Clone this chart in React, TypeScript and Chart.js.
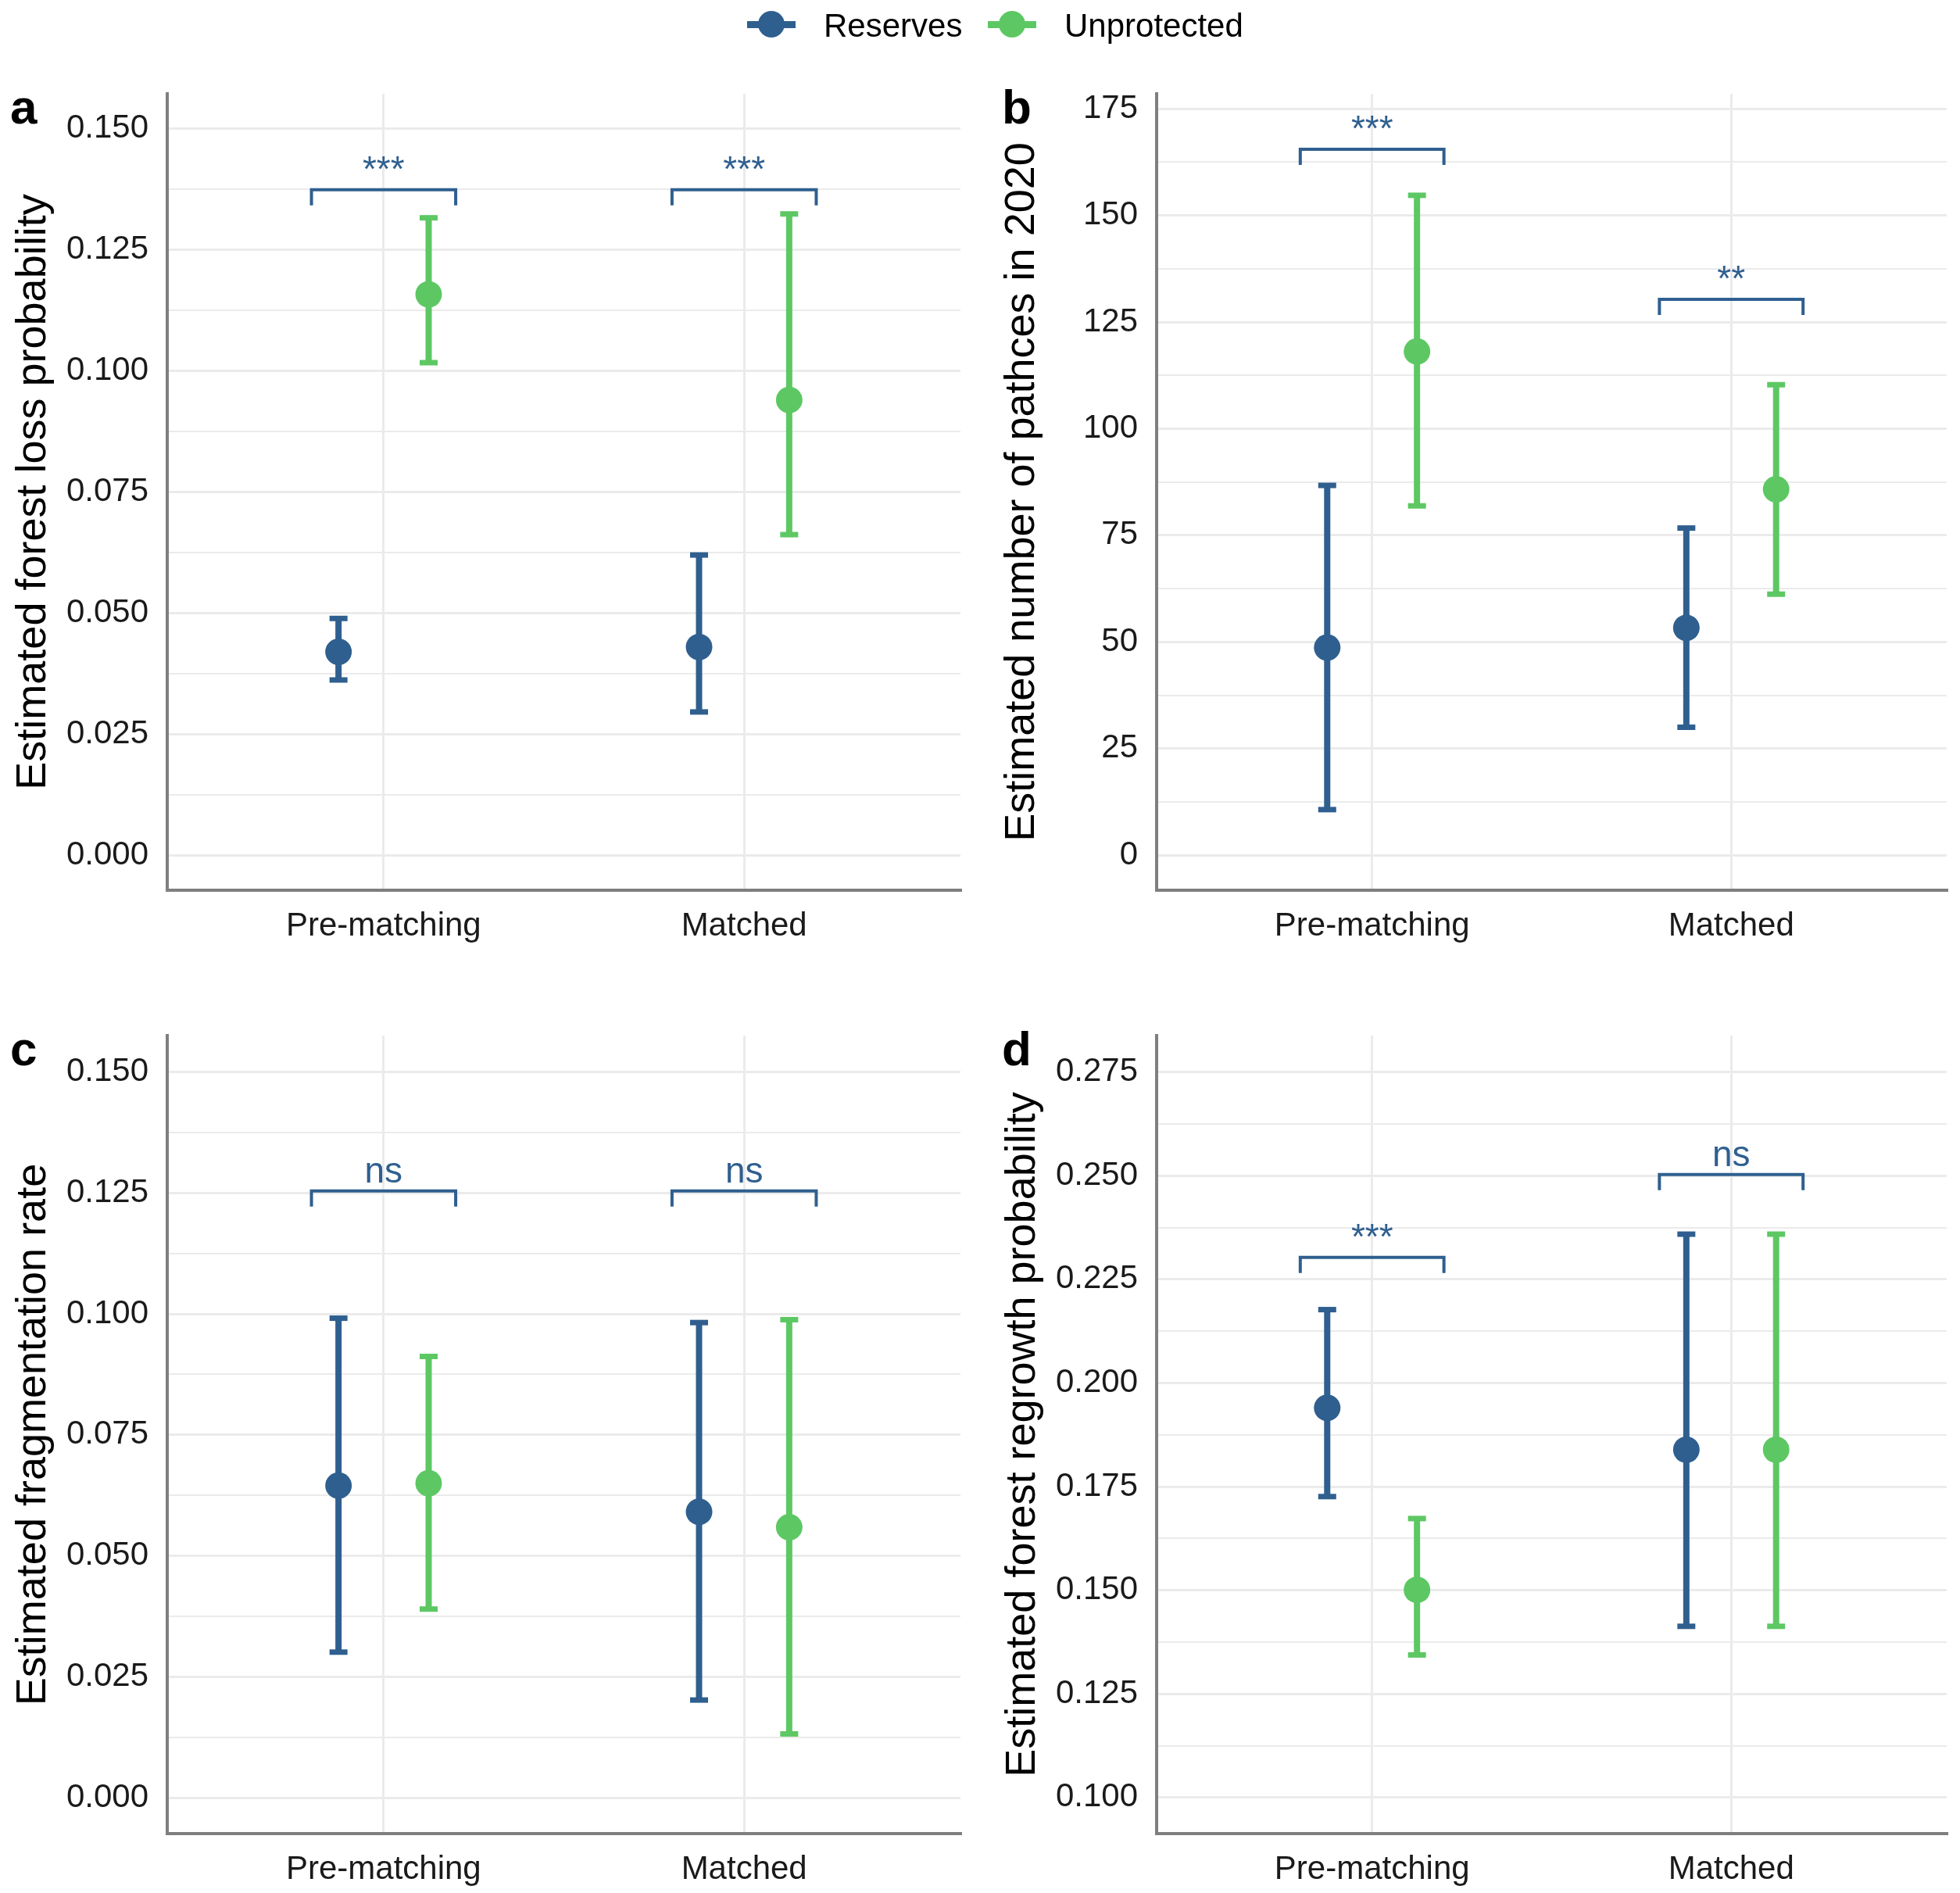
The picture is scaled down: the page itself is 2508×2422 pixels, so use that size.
import React, { useEffect, useRef } from 'react';
import { Chart, registerables } from 'chart.js';

Chart.register(...registerables);

// ---------- shared ----------
const CATEGORIES = ['Pre-matching', 'Matched'];
const SERIES = ['Reserves', 'Unprotected'];
const SERIES_COLORS = ['#2F5F8F', '#5DC863'];

// ---------- panel a: forest loss probability ----------
const A_TITLE = 'Estimated forest loss probability';
const A_RES = [0.042, 0.043];
const A_RES_LOW = [0.0362, 0.0296];
const A_RES_HIGH = [0.0489, 0.062];
const A_UNP = [0.1158, 0.094];
const A_UNP_LOW = [0.1017, 0.0662];
const A_UNP_HIGH = [0.1316, 0.1324];
const A_SIG = ['***', '***'];
const A_SIG_Y = [0.1374, 0.1374];
const A_Y_TICKS = [0, 0.025, 0.05, 0.075, 0.1, 0.125, 0.15];
const A_Y_RANGE = [-0.0072, 0.1572];

// ---------- panel b: number of patches ----------
const B_TITLE = 'Estimated number of pathces in 2020';
const B_RES = [48.7, 53.3];
const B_RES_LOW = [10.7, 30.0];
const B_RES_HIGH = [86.7, 76.7];
const B_UNP = [118.1, 85.8];
const B_UNP_LOW = [81.9, 61.2];
const B_UNP_HIGH = [154.7, 110.3];
const B_SIG = ['***', '**'];
const B_SIG_Y = [165.5, 130.3];
const B_Y_TICKS = [0, 25, 50, 75, 100, 125, 150, 175];
const B_Y_RANGE = [-8.2, 178.5];

// ---------- panel c: fragmentation rate ----------
const C_TITLE = 'Estimated fragmentation rate';
const C_RES = [0.0645, 0.0591];
const C_RES_LOW = [0.0301, 0.0202];
const C_RES_HIGH = [0.0991, 0.0982];
const C_UNP = [0.065, 0.0559];
const C_UNP_LOW = [0.039, 0.0132];
const C_UNP_HIGH = [0.0912, 0.0988];
const C_SIG = ['ns', 'ns'];
const C_SIG_Y = [0.1254, 0.1254];
const C_Y_TICKS = [0, 0.025, 0.05, 0.075, 0.1, 0.125, 0.15];
const C_Y_RANGE = [-0.0074, 0.1575];

// ---------- panel d: regrowth probability ----------
const D_TITLE = 'Estimated forest regrowth probability';
const D_RES = [0.194, 0.1839];
const D_RES_LOW = [0.1726, 0.1413];
const D_RES_HIGH = [0.2177, 0.2359];
const D_UNP = [0.1501, 0.1839];
const D_UNP_LOW = [0.1344, 0.1413];
const D_UNP_HIGH = [0.1673, 0.2359];
const D_SIG = ['***', 'ns'];
const D_SIG_Y = [0.2303, 0.2503];
const D_Y_TICKS = [0.1, 0.125, 0.15, 0.175, 0.2, 0.225, 0.25, 0.275];
const D_Y_RANGE = [0.0913, 0.2838];

// ---------- styling / layout ----------
const FONT = "'Liberation Sans', Arial, Helvetica, sans-serif";
const DODGE = [-0.125, 0.125];
const BRACKET_HALF = 0.2;

type Layout = {
  letter: string; left: number; top: number; width: number; height: number;
  padTop: number; padRight: number; yWidth: number; xHeight: number;
  titlePad: number; letterX: number; letterY: number; decimals: number;
};

const LAYOUTS: Layout[] = [
  { letter: 'a', left: 0, top: 0, width: 1254, height: 1300, padTop: 120, padRight: 25, yWidth: 214, xHeight: 161, titlePad: 11, letterX: 13, letterY: 158, decimals: 3 },
  { letter: 'b', left: 1254, top: 0, width: 1254, height: 1300, padTop: 120, padRight: 12, yWidth: 226, xHeight: 161, titlePad: 22, letterX: 28, letterY: 158, decimals: 0 },
  { letter: 'c', left: 0, top: 1250, width: 1254, height: 1172, padTop: 75, padRight: 25, yWidth: 214, xHeight: 76, titlePad: 11, letterX: 13, letterY: 113, decimals: 3 },
  { letter: 'd', left: 1254, top: 1250, width: 1254, height: 1172, padTop: 75, padRight: 12, yWidth: 226, xHeight: 76, titlePad: 23, letterX: 28, letterY: 113, decimals: 3 },
];

type PanelData = {
  title: string;
  est: number[][]; low: number[][]; high: number[][];
  sig: string[]; sigY: number[]; ticks: number[]; range: number[];
};

const PANELS: PanelData[] = [
  { title: A_TITLE, est: [A_RES, A_UNP], low: [A_RES_LOW, A_UNP_LOW], high: [A_RES_HIGH, A_UNP_HIGH], sig: A_SIG, sigY: A_SIG_Y, ticks: A_Y_TICKS, range: A_Y_RANGE },
  { title: B_TITLE, est: [B_RES, B_UNP], low: [B_RES_LOW, B_UNP_LOW], high: [B_RES_HIGH, B_UNP_HIGH], sig: B_SIG, sigY: B_SIG_Y, ticks: B_Y_TICKS, range: B_Y_RANGE },
  { title: C_TITLE, est: [C_RES, C_UNP], low: [C_RES_LOW, C_UNP_LOW], high: [C_RES_HIGH, C_UNP_HIGH], sig: C_SIG, sigY: C_SIG_Y, ticks: C_Y_TICKS, range: C_Y_RANGE },
  { title: D_TITLE, est: [D_RES, D_UNP], low: [D_RES_LOW, D_UNP_LOW], high: [D_RES_HIGH, D_UNP_HIGH], sig: D_SIG, sigY: D_SIG_Y, ticks: D_Y_TICKS, range: D_Y_RANGE },
];

function makePlugin(p: PanelData, L: Layout) {
  return {
    id: 'errbars-' + L.letter,
    beforeDatasetsDraw(chart: any) {
      const { ctx } = chart;
      const x = chart.scales.x;
      const y = chart.scales.y;
      ctx.save();
      ctx.lineCap = 'butt';
      SERIES.forEach((_, si) => {
        ctx.strokeStyle = SERIES_COLORS[si];
        CATEGORIES.forEach((__, ci) => {
          const px = x.getPixelForValue(ci + 1 + DODGE[si]);
          const lo = y.getPixelForValue(p.low[si][ci]);
          const hi = y.getPixelForValue(p.high[si][ci]);
          ctx.lineWidth = 8;
          ctx.beginPath();
          ctx.moveTo(px, lo);
          ctx.lineTo(px, hi);
          ctx.stroke();
          ctx.lineWidth = 7;
          [lo, hi].forEach((yy) => {
            ctx.beginPath();
            ctx.moveTo(px - 11.5, yy);
            ctx.lineTo(px + 11.5, yy);
            ctx.stroke();
          });
        });
      });
      ctx.strokeStyle = SERIES_COLORS[0];
      ctx.fillStyle = SERIES_COLORS[0];
      ctx.lineWidth = 4;
      ctx.lineJoin = 'miter';
      p.sigY.forEach((v, ci) => {
        const x1 = x.getPixelForValue(ci + 1 - BRACKET_HALF);
        const x2 = x.getPixelForValue(ci + 1 + BRACKET_HALF);
        const yb = y.getPixelForValue(v);
        ctx.beginPath();
        ctx.moveTo(x1, yb + 20);
        ctx.lineTo(x1, yb);
        ctx.lineTo(x2, yb);
        ctx.lineTo(x2, yb + 20);
        ctx.stroke();
        ctx.font = `46px ${FONT}`;
        ctx.textAlign = 'center';
        ctx.textBaseline = 'alphabetic';
        ctx.fillText(p.sig[ci], (x1 + x2) / 2, yb - 11);
      });
      ctx.restore();
    },
    afterDraw(chart: any) {
      const { ctx } = chart;
      ctx.save();
      ctx.fillStyle = '#000';
      ctx.font = `bold 62px ${FONT}`;
      ctx.textAlign = 'left';
      ctx.textBaseline = 'alphabetic';
      ctx.fillText(L.letter, L.letterX, L.letterY);
      ctx.restore();
    },
  };
}

function isMajor(p: PanelData, v: number) {
  return p.ticks.some((t) => Math.abs(t - v) < 1e-9);
}

function buildConfig(p: PanelData, L: Layout): any {
  const minor: number[] = [];
  for (let i = 0; i < p.ticks.length - 1; i++) minor.push((p.ticks[i] + p.ticks[i + 1]) / 2);
  const allTicks = [...p.ticks, ...minor].sort((a, b) => a - b);
  return {
    type: 'scatter',
    data: {
      datasets: SERIES.map((s, si) => ({
        label: s,
        data: CATEGORIES.map((_, ci) => ({ x: ci + 1 + DODGE[si], y: p.est[si][ci] })),
        backgroundColor: SERIES_COLORS[si],
        borderColor: SERIES_COLORS[si],
        borderWidth: 0,
        pointRadius: 17,
        pointHoverRadius: 17,
        showLine: false,
      })),
    },
    options: {
      animation: false,
      responsive: false,
      devicePixelRatio: 1,
      events: [],
      layout: { padding: { top: L.padTop, right: L.padRight, left: 0, bottom: 0 } },
      plugins: { legend: { display: false }, tooltip: { enabled: false } },
      scales: {
        x: {
          type: 'linear',
          min: 0.4,
          max: 2.6,
          afterBuildTicks: (scale: any) => {
            scale.ticks = CATEGORIES.map((_, i) => ({ value: i + 1 }));
          },
          afterFit: (scale: any) => {
            scale.height = L.xHeight;
          },
          ticks: {
            callback: (v: number) => CATEGORIES[Math.round(v) - 1],
            font: { size: 42, family: FONT },
            color: '#1a1a1a',
            padding: 21,
            maxRotation: 0,
            autoSkip: false,
          },
          grid: { color: '#EBEBEB', lineWidth: 3, drawTicks: false },
          border: { display: true, color: '#7F7F7F', width: 4 },
        },
        y: {
          type: 'linear',
          min: p.range[0],
          max: p.range[1],
          afterBuildTicks: (scale: any) => {
            scale.ticks = allTicks.map((v) => ({ value: v }));
          },
          afterFit: (scale: any) => {
            scale.width = L.yWidth;
          },
          ticks: {
            callback: (v: number) => (isMajor(p, v) ? v.toFixed(L.decimals) : ''),
            font: { size: 42, family: FONT },
            color: '#1a1a1a',
            padding: 24,
          },
          grid: {
            color: '#EBEBEB',
            lineWidth: (ctx: any) => (ctx.tick && isMajor(p, ctx.tick.value) ? 3 : 2),
            drawTicks: false,
          },
          border: { display: true, color: '#7F7F7F', width: 4 },
          title: {
            display: true,
            text: p.title,
            font: { size: 54, family: FONT },
            color: '#000',
            padding: { top: L.titlePad, bottom: 0 },
          },
        },
      },
    },
    plugins: [makePlugin(p, L)],
  };
}

function Panel({ p, L }: { p: PanelData; L: Layout }) {
  const ref = useRef<HTMLCanvasElement>(null);
  useEffect(() => {
    const chart = new Chart(ref.current as HTMLCanvasElement, buildConfig(p, L));
    return () => chart.destroy();
  }, []);
  return (
    <canvas
      ref={ref}
      width={L.width}
      height={L.height}
      style={{ position: 'absolute', left: L.left, top: L.top, width: L.width, height: L.height }}
    />
  );
}

const LEGEND_POS = [
  { marker: 987, text: 1054 },
  { marker: 1295, text: 1362 },
];

function LegendItem({ i }: { i: number }) {
  const c = SERIES_COLORS[i];
  const pos = LEGEND_POS[i];
  return (
    <>
      <div style={{ position: 'absolute', left: pos.marker - 31, top: 31 - 4.5, width: 62, height: 9, background: c }} />
      <div style={{ position: 'absolute', left: pos.marker - 17, top: 31 - 17, width: 34, height: 34, borderRadius: '50%', background: c }} />
      <div style={{ position: 'absolute', left: pos.text, top: 11.5, fontFamily: FONT, fontSize: 42, lineHeight: 1, color: '#000', whiteSpace: 'nowrap' }}>
        {SERIES[i]}
      </div>
    </>
  );
}

export default function App() {
  return (
    <div style={{ position: 'absolute', left: 0, top: 0, width: 2508, height: 2422, background: '#fff', overflow: 'hidden' }}>
      {PANELS.map((p, i) => (
        <Panel key={i} p={p} L={LAYOUTS[i]} />
      ))}
      <LegendItem i={0} />
      <LegendItem i={1} />
    </div>
  );
}
